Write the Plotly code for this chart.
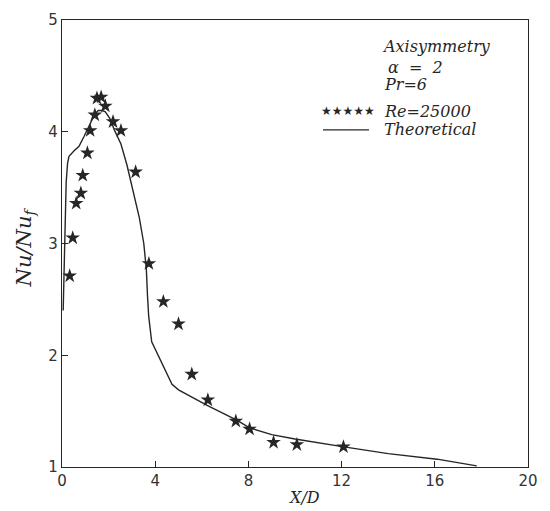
import plotly.graph_objects as go

# Experimental data (stars), Re = 25000
exp_x = [0.33, 0.46, 0.61, 0.81, 0.89, 1.09, 1.21, 1.41, 1.50, 1.68, 1.86, 2.19, 2.53,
         3.16, 3.73, 4.35, 5.00, 5.57, 6.26, 7.46, 8.05, 9.08, 10.08, 12.08]
exp_y = [2.71, 3.05, 3.36, 3.45, 3.61, 3.81, 4.01, 4.15, 4.30, 4.31, 4.23, 4.09, 4.01,
         3.64, 2.82, 2.48, 2.28, 1.83, 1.60, 1.41, 1.34, 1.22, 1.20, 1.18]

# Theoretical curve
th_x = [0.05, 0.10, 0.13, 0.18, 0.24, 0.30, 0.52, 0.73, 0.95, 1.11, 1.26, 1.41, 1.56,
        1.70, 1.85, 2.05, 2.26, 2.53, 2.79, 3.06, 3.32, 3.51, 3.62, 3.67, 3.72, 3.85,
        4.72, 5.00, 6.25, 7.50, 8.05, 9.00, 10.00, 12.10, 14.00, 16.10, 17.80]
th_y = [2.40, 2.80, 3.15, 3.55, 3.72, 3.78, 3.83, 3.87, 3.96, 4.03, 4.10, 4.16, 4.19,
        4.19, 4.18, 4.12, 4.01, 3.89, 3.70, 3.47, 3.23, 3.00, 2.77, 2.53, 2.35, 2.12,
        1.74, 1.69, 1.55, 1.42, 1.35, 1.29, 1.25, 1.18, 1.12, 1.07, 1.01]

x_ticks = [0, 4, 8, 12, 16, 20]
y_ticks = [1, 2, 3, 4, 5]

ink = "#262626"
serif_it = dict(family="DejaVu Serif", size=16, color=ink, style="italic")

W, H = 550, 511
L, R, T, B = 62, 22, 11, 44
pw, ph = W - L - R, H - T - B


def px(x):
    return (x - L) / pw


def py(y):
    return 1 - (y - T) / ph


fig = go.Figure()
fig.add_trace(go.Scatter(x=th_x, y=th_y, mode="lines",
                         line=dict(color=ink, width=1.4), showlegend=False))
fig.add_trace(go.Scatter(x=exp_x, y=exp_y, mode="markers",
                         marker=dict(symbol="star", size=11, color=ink,
                                     line=dict(width=0)), showlegend=False))

axis_common = dict(showgrid=False, zeroline=False, showline=True, linecolor=ink,
                   linewidth=1.4, mirror=True, ticks="inside", ticklen=6,
                   tickcolor=ink, tickwidth=1.2,
                   tickfont=dict(family="DejaVu Sans", size=15, color="#333"))

fig.update_layout(
    width=W, height=H,
    margin=dict(l=L, r=R, t=T, b=B),
    paper_bgcolor="white", plot_bgcolor="white",
    xaxis=dict(range=[0, 20], tickvals=x_ticks, **axis_common),
    yaxis=dict(range=[1, 5], tickvals=y_ticks, **axis_common),
)

# Axis titles
fig.add_annotation(x=px(304), y=py(498), xref="paper", yref="paper", text="X/D",
                   showarrow=False, font=dict(family="DejaVu Serif", size=16,
                                              color=ink, style="italic"),
                   xanchor="center", yanchor="middle")
fig.add_annotation(x=px(25), y=py(243), xref="paper", yref="paper", text="Nu/Nu<sub>f</sub>",
                   showarrow=False, font=dict(family="DejaVu Serif", size=21,
                                              color=ink, style="italic"),
                   textangle=-90, xanchor="center", yanchor="middle")

# Text block top-right
texts = [
    ("Axisymmetry", 380, 38),
    ("α  =  2", 386, 59),
    ("Pr=6", 382, 77),
    ("Re=25000", 382, 104),
    ("Theoretical", 382, 123),
]
for t, x, y in texts:
    fig.add_annotation(x=px(x), y=py(y), xref="paper", yref="paper", text=t,
                       showarrow=False, font=serif_it, xanchor="left", yanchor="middle")

fig.add_annotation(x=px(319), y=py(104), xref="paper", yref="paper", text="★★★★★",
                   showarrow=False, font=dict(family="DejaVu Sans", size=12, color=ink),
                   xanchor="left", yanchor="middle")

fig.add_shape(type="line", xref="paper", yref="paper",
              x0=px(323), x1=px(369), y0=py(123), y1=py(123),
              line=dict(color=ink, width=1.2))

fig.write_html("out.html")
